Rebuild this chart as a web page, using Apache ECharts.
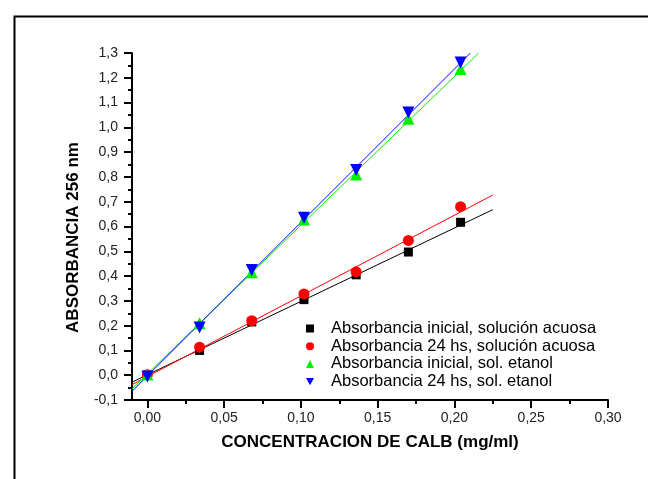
<!DOCTYPE html>
<html>
<head>
<meta charset="utf-8">
<script src="https://cdn.jsdelivr.net/npm/echarts@6/dist/echarts.min.js"></script>
<style>html,body{margin:0;padding:0;background:#fff}#c{width:648px;height:479px}</style>
</head>
<body>
<div id="c"></div>
<script>
// ---- data ----
const concentration = [0.000, 0.034, 0.068, 0.102, 0.136, 0.170, 0.204];
const inicialAcuosa = [0.000, 0.100, 0.215, 0.305, 0.405, 0.497, 0.617];
const h24Acuosa     = [0.002, 0.113, 0.220, 0.328, 0.417, 0.544, 0.680];
const inicialEtanol = [0.003, 0.210, 0.415, 0.628, 0.810, 1.035, 1.235];
const h24Etanol     = [-0.005, 0.193, 0.425, 0.635, 0.828, 1.060, 1.262];
// fitted lines: [x start, x end] and [y start, y end]
const fitInicialAcuosaX = [-0.01, 0.225], fitInicialAcuosaY = [-0.028, 0.668];
const fitH24AcuosaX     = [-0.01, 0.225], fitH24AcuosaY     = [-0.038, 0.727];
const fitInicialEtanolX = [-0.01, 0.2158], fitInicialEtanolY = [-0.055, 1.30];
const fitH24EtanolX     = [-0.01, 0.2104], fitH24EtanolY     = [-0.065, 1.30];
const seriesNames = [
  'Absorbancia inicial, solución acuosa',
  'Absorbancia 24 hs, solución acuosa',
  'Absorbancia inicial, sol. etanol',
  'Absorbancia 24 hs, sol. etanol'
];
const xMajorTicks = [0, 0.05, 0.10, 0.15, 0.20, 0.25, 0.30];
const xMinorTicks = [0.025, 0.075, 0.125, 0.175, 0.225, 0.275];

const pairs = (xs, ys) => xs.map((x, i) => [x, ys[i]]);
const font = 'Liberation Sans, Arial, sans-serif';
const colors = ['#000000', '#ff0000', '#00ee00', '#0000ff'];
const symbols = ['rect', 'circle', 'triangle', 'triangle'];
const legendIcons = ['rect', 'circle', 'triangle', 'path://M0,0L2,0L1,1.8Z'];
const rotates = [0, 0, 0, 180];
const sizes = [9, 11, 12, 12];
const pts = [inicialAcuosa, h24Acuosa, inicialEtanol, h24Etanol];
const fits = [[fitInicialAcuosaX, fitInicialAcuosaY], [fitH24AcuosaX, fitH24AcuosaY],
              [fitInicialEtanolX, fitInicialEtanolY], [fitH24EtanolX, fitH24EtanolY]];

const series = [];
fits.forEach((f, i) => {
  series.push({
    type: 'line', data: pairs(f[0], f[1]), showSymbol: false, symbol: 'none',
    lineStyle: { color: colors[i], width: 1 }, silent: true, z: 2
  });
});
pts.forEach((p, i) => {
  series.push({
    name: seriesNames[i], type: 'scatter', data: pairs(concentration, p),
    symbol: symbols[i], symbolRotate: rotates[i], symbolSize: sizes[i],
    itemStyle: { color: colors[i], opacity: 1 }, z: 3
  });
});

const fmt = v => v.toFixed(2).replace('.', ',');
const chart = echarts.init(document.getElementById('c'), null, { renderer: 'canvas' });
chart.setOption({
  animation: false,
  backgroundColor: '#fff',
  graphic: [{
    type: 'rect', left: 12, top: 14, z: -10,
    shape: { width: 700, height: 600 },
    style: { fill: 'none', stroke: '#000', lineWidth: 2 }
  }],
  grid: { left: 132, right: 40, top: 53, bottom: 79 },
  legend: {
    data: seriesNames.map((n, i) => ({
      name: n, icon: legendIcons[i],
      itemStyle: { color: colors[i], opacity: 1 }
    })),
    orient: 'vertical', left: 301, top: 315, itemWidth: 8, itemHeight: 8, itemGap: 0.7,
    textStyle: { fontFamily: font, fontSize: 16.5, color: '#000', lineHeight: 17, padding: [0, 0, 0, 12] }
  },
  xAxis: [{
    type: 'value', min: -0.01, max: 0.30, position: 'bottom',
    name: 'CONCENTRACION DE CALB (mg/ml)', nameLocation: 'middle', nameGap: 34,
    nameTextStyle: { fontFamily: font, fontSize: 17, fontWeight: 'bold', color: '#000' },
    axisLine: { onZero: false, lineStyle: { color: '#000', width: 2 } },
    axisTick: { show: true, customValues: xMajorTicks, length: 8, lineStyle: { color: '#000', width: 2 } },
    axisLabel: { customValues: xMajorTicks, formatter: fmt, fontFamily: font, fontSize: 14, color: '#222', margin: 11 },
    splitLine: { show: false }
  }, {
    type: 'value', min: -0.01, max: 0.30, position: 'bottom',
    axisLine: { show: false, onZero: false },
    axisTick: { show: true, customValues: xMinorTicks, length: 4, lineStyle: { color: '#000', width: 2 } },
    axisLabel: { show: false },
    splitLine: { show: false }
  }],
  yAxis: {
    type: 'value', min: -0.1, max: 1.3, interval: 0.1,
    name: 'ABSORBANCIA 256 nm', nameLocation: 'middle', nameGap: 50,
    nameTextStyle: { fontFamily: font, fontSize: 17, fontWeight: 'bold', color: '#000', padding: [0, 22, 0, 0] },
    axisLine: { show: true, onZero: false, lineStyle: { color: '#000', width: 2 } },
    axisTick: { show: true, length: 8, lineStyle: { color: '#000', width: 2 } },
    minorTick: { show: true, splitNumber: 2, length: 4, lineStyle: { color: '#000', width: 2 } },
    axisLabel: { formatter: v => v.toFixed(1).replace('.', ','), fontFamily: font, fontSize: 14, color: '#222', margin: 14 },
    splitLine: { show: false }
  },
  series: series
});
</script>
</body>
</html>
